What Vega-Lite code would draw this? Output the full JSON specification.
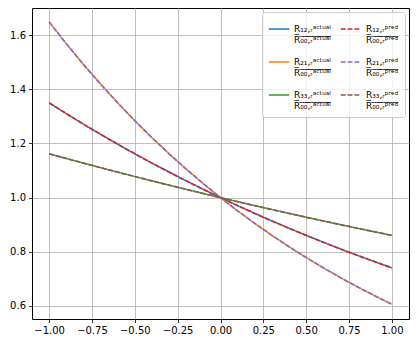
{
  "$schema": "https://vega.github.io/schema/vega-lite/v6.json",
  "width": 377,
  "height": 311,
  "autosize": {"type": "none"},
  "padding": {"left": 32, "top": 8, "right": 7, "bottom": 28},
  "config": {
    "view": {"stroke": "#000000", "strokeWidth": 1},
    "font": "DejaVu Sans",
    "axis": {
      "domain": false,
      "grid": true,
      "gridColor": "#b0b0b0",
      "gridWidth": 0.8,
      "tickColor": "#000000",
      "tickSize": 3.5,
      "tickWidth": 0.8,
      "labelColor": "#000000",
      "labelFontSize": 10,
      "labelFont": "DejaVu Sans",
      "labelPadding": 3,
      "title": null
    }
  },
  "data": {
    "values": [
      {"x": -1.0, "a12": 1.3499, "a21": 1.6487, "a33": 1.1618, "p12": 1.3499, "p21": 1.6487, "p33": 1.1618},
      {"x": -0.9, "a12": 1.3100, "a21": 1.5683, "a33": 1.1445, "p12": 1.3100, "p21": 1.5683, "p33": 1.1445},
      {"x": -0.8, "a12": 1.2712, "a21": 1.4918, "a33": 1.1275, "p12": 1.2712, "p21": 1.4918, "p33": 1.1275},
      {"x": -0.7, "a12": 1.2337, "a21": 1.4191, "a33": 1.1107, "p12": 1.2337, "p21": 1.4191, "p33": 1.1107},
      {"x": -0.6, "a12": 1.1972, "a21": 1.3499, "a33": 1.0942, "p12": 1.1972, "p21": 1.3499, "p33": 1.0942},
      {"x": -0.5, "a12": 1.1618, "a21": 1.2840, "a33": 1.0779, "p12": 1.1618, "p21": 1.2840, "p33": 1.0779},
      {"x": -0.4, "a12": 1.1275, "a21": 1.2214, "a33": 1.0618, "p12": 1.1275, "p21": 1.2214, "p33": 1.0618},
      {"x": -0.3, "a12": 1.0942, "a21": 1.1618, "a33": 1.0460, "p12": 1.0942, "p21": 1.1618, "p33": 1.0460},
      {"x": -0.2, "a12": 1.0618, "a21": 1.1052, "a33": 1.0305, "p12": 1.0618, "p21": 1.1052, "p33": 1.0305},
      {"x": -0.1, "a12": 1.0305, "a21": 1.0513, "a33": 1.0151, "p12": 1.0305, "p21": 1.0513, "p33": 1.0151},
      {"x": 0.0, "a12": 1.0, "a21": 1.0, "a33": 1.0, "p12": 1.0, "p21": 1.0, "p33": 1.0},
      {"x": 0.1, "a12": 0.9704, "a21": 0.9512, "a33": 0.9851, "p12": 0.9704, "p21": 0.9512, "p33": 0.9851},
      {"x": 0.2, "a12": 0.9418, "a21": 0.9048, "a33": 0.9704, "p12": 0.9418, "p21": 0.9048, "p33": 0.9704},
      {"x": 0.3, "a12": 0.9139, "a21": 0.8607, "a33": 0.9560, "p12": 0.9139, "p21": 0.8607, "p33": 0.9560},
      {"x": 0.4, "a12": 0.8869, "a21": 0.8187, "a33": 0.9418, "p12": 0.8869, "p21": 0.8187, "p33": 0.9418},
      {"x": 0.5, "a12": 0.8607, "a21": 0.7788, "a33": 0.9277, "p12": 0.8607, "p21": 0.7788, "p33": 0.9277},
      {"x": 0.6, "a12": 0.8353, "a21": 0.7408, "a33": 0.9139, "p12": 0.8353, "p21": 0.7408, "p33": 0.9139},
      {"x": 0.7, "a12": 0.8106, "a21": 0.7047, "a33": 0.9003, "p12": 0.8106, "p21": 0.7047, "p33": 0.9003},
      {"x": 0.8, "a12": 0.7866, "a21": 0.6703, "a33": 0.8869, "p12": 0.7866, "p21": 0.6703, "p33": 0.8869},
      {"x": 0.9, "a12": 0.7634, "a21": 0.6376, "a33": 0.8737, "p12": 0.7634, "p21": 0.6376, "p33": 0.8737},
      {"x": 1.0, "a12": 0.7408, "a21": 0.6065, "a33": 0.8607, "p12": 0.7408, "p21": 0.6065, "p33": 0.8607}
    ]
  },
  "encoding": {
    "x": {
      "field": "x", "type": "quantitative",
      "scale": {"domain": [-1.1, 1.1], "nice": false, "zero": false},
      "axis": {"values": [-1, -0.75, -0.5, -0.25, 0, 0.25, 0.5, 0.75, 1], "format": ".2f", "labelExpr": "replace(datum.label, '-', '−')", "labelFlush": false}
    },
    "y": {
      "field": "y", "type": "quantitative",
      "scale": {"domain": [0.552, 1.7], "nice": false, "zero": false},
      "axis": {"values": [0.6, 0.8, 1.0, 1.2, 1.4, 1.6], "format": ".1f"}
    },
    "color": {
      "field": "s", "type": "nominal",
      "scale": {
        "domain": ["a12", "a21", "a33", "p12", "p21", "p33"],
        "range": ["#1f77b4", "#ff7f0e", "#2ca02c", "#d62728", "#9467bd", "#8c564b"]
      },
      "legend": {
        "title": null,
        "orient": "top-right",
        "offset": 4,
        "columns": 2,
        "symbolType": "stroke",
        "symbolSize": 420,
        "symbolStrokeWidth": 1.5,
        "labelFontSize": 9,
        "labelFont": "DejaVu Sans",
        "labelColor": "#000000",
        "labelLimit": 200,
        "columnPadding": 6,
        "rowPadding": 6,
        "padding": 6,
        "fillColor": "rgba(255,255,255,0.8)",
        "strokeColor": "#cccccc",
        "cornerRadius": 3,
        "labelExpr": "datum.label == 'a12' ? ['R₁₂,ᵣᵃᶜᵗᵘᵃˡ', 'R̅₀̅₀̅,̅ᵣ̅ᵃ̅ᶜ̅ᵗ̅ᵘ̅ᵃ̅ˡ̅'] : datum.label == 'a21' ? ['R₂₁,ᵣᵃᶜᵗᵘᵃˡ', 'R̅₀̅₀̅,̅ᵣ̅ᵃ̅ᶜ̅ᵗ̅ᵘ̅ᵃ̅ˡ̅'] : datum.label == 'a33' ? ['R₃₃,ᵣᵃᶜᵗᵘᵃˡ', 'R̅₀̅₀̅,̅ᵣ̅ᵃ̅ᶜ̅ᵗ̅ᵘ̅ᵃ̅ˡ̅'] : datum.label == 'p12' ? ['R₁₂,ᵣᵖʳᵉᵈ', 'R̅₀̅₀̅,̅ᵣ̅ᵖ̅ʳ̅ᵉ̅ᵈ̅'] : datum.label == 'p21' ? ['R₂₁,ᵣᵖʳᵉᵈ', 'R̅₀̅₀̅,̅ᵣ̅ᵖ̅ʳ̅ᵉ̅ᵈ̅'] : ['R₃₃,ᵣᵖʳᵉᵈ', 'R̅₀̅₀̅,̅ᵣ̅ᵖ̅ʳ̅ᵉ̅ᵈ̅']"
      }
    },
    "strokeDash": {
      "field": "s", "type": "nominal",
      "scale": {
        "domain": ["a12", "a21", "a33", "p12", "p21", "p33"],
        "range": [[1, 0], [1, 0], [1, 0], [5, 1.8], [5, 1.8], [5, 1.8]]
      }
    }
  },
  "layer": [
    {
      "transform": [{"fold": ["a12", "a21", "a33"], "as": ["s", "y"]}],
      "mark": {"type": "line", "strokeWidth": 1.4, "clip": true}
    },
    {
      "transform": [{"fold": ["p12", "p21", "p33"], "as": ["s", "y"]}],
      "mark": {"type": "line", "strokeWidth": 1.7, "clip": true}
    }
  ]
}
